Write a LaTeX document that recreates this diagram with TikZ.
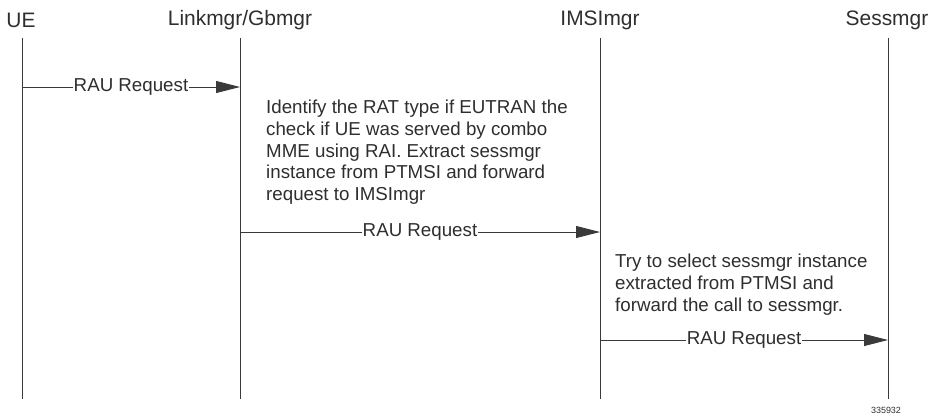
\documentclass[tikz,border=0pt]{standalone}
\usepackage{fontspec}
\setmainfont{Liberation Sans}
\usetikzlibrary{arrows.meta}
\definecolor{ink}{HTML}{3A3A3A}
\definecolor{txt}{HTML}{2E2E2E}
\begin{document}
\begin{tikzpicture}[x=1bp,y=-1bp,
  head/.style={font=\fontsize{21}{24}\selectfont, text=txt, inner sep=0pt},
  life/.style={draw=ink, line width=0.9bp},
  msg/.style={draw=ink, line width=0.9bp, -{Triangle[length=24bp,width=12bp]}},
  msglabel/.style={font=\fontsize{18.8}{21}\selectfont, text=txt, fill=white, inner xsep=0.5bp, inner ysep=1bp},
  note/.style={font=\fontsize{18.8}{21.7}\selectfont, text=txt, align=left, anchor=north west, inner sep=0pt}]
\useasboundingbox (0,0) rectangle (930,414);
% headers
\node[head] (hUE) at (21,20) {UE};
\node[head] (hLM) at (240,20) {Linkmgr/Gbmgr};
\node[head] (hIM) at (600,20) {IMSImgr};
\node[head] (hSM) at (887,20) {Sessmgr};
% lifelines
\coordinate (tUE) at (22,38); \coordinate (bUE) at (22,399);
\coordinate (tLM) at (240,38); \coordinate (bLM) at (240,399);
\coordinate (tIM) at (600,38); \coordinate (bIM) at (600,399);
\coordinate (tSM) at (888,38); \coordinate (bSM) at (888,399);
\draw[life] (tUE) -- (bUE);
\draw[life] (tLM) -- (bLM);
\draw[life] (tIM) -- (bIM);
\draw[life] (tSM) -- (bSM);
% messages
\coordinate (m1a) at (22,87); \coordinate (m1b) at (240,87);
\draw[msg] (m1a) -- node[msglabel] (l1) {RAU Request} (m1b);
\node[note] (n1) at (266,100) {Identify the RAT type if EUTRAN the\\check if UE was served by combo\\MME using RAI. Extract sessmgr\\instance from PTMSI and forward\\request to IMSImgr};
\coordinate (m2a) at (240,232); \coordinate (m2b) at (600,232);
\draw[msg] (m2a) -- node[msglabel] (l2) {RAU Request} (m2b);
\node[note] (n2) at (615,254) {Try to select sessmgr instance\\extracted from PTMSI and\\forward the call to sessmgr.};
\coordinate (m3a) at (600,340); \coordinate (m3b) at (888,340);
\draw[msg] (m3a) -- node[msglabel] (l3) {RAU Request} (m3b);
\node[font=\fontsize{9}{10}\selectfont, text=txt, inner sep=0pt] (fig) at (886,410) {335932};
\end{tikzpicture}
\end{document}
